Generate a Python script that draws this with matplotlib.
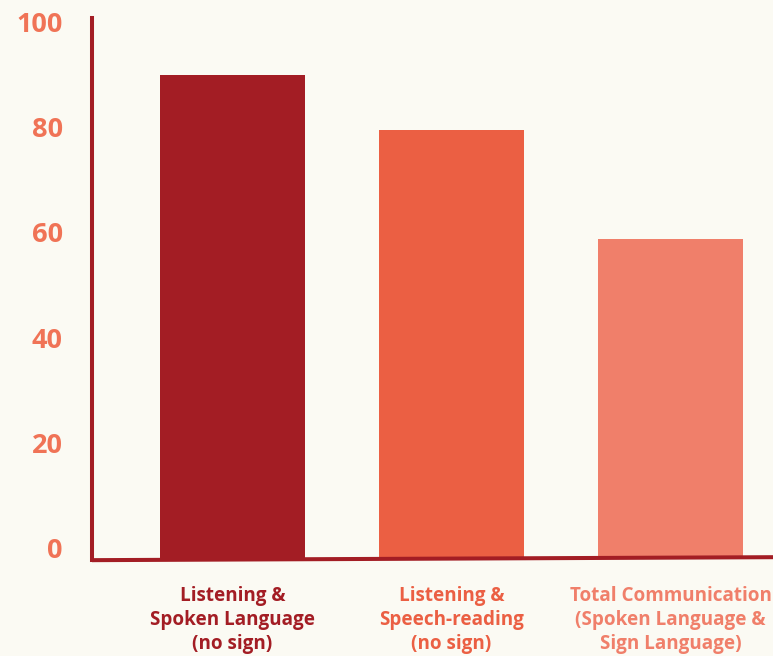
import matplotlib
matplotlib.use("Agg")
import matplotlib.pyplot as plt

categories = ["Listening &\nSpoken Language\n(no sign)",
              "Listening &\nSpeech-reading\n(no sign)",
              "Total Communication\n(Spoken Language &\nSign Language)"]
values = [90, 79.5, 58.7]
yticks = [0, 20, 40, 60, 80, 100]
colors = ["#a31d24", "#eb5f43", "#f07f6a"]

BG = "#fbfaf3"
AXC = "#a31d24"
TICKC = "#f07356"

plt.rcParams['font.family'] = ['Open Sans', 'DejaVu Sans']

fig = plt.figure(figsize=(7.73, 6.56), dpi=100, facecolor=BG)
ax = fig.add_axes([92/773, (656-558)/656, (773-92)/773, 540/656])
ax.set_facecolor(BG)

ymin, ymax = -1.90, 100.76
x = list(range(len(categories)))
ax.bar(x, [v - ymin for v in values], bottom=ymin, width=0.662, color=colors, zorder=2)

ax.set_xlim(-0.6416, 2.468)
ax.set_ylim(ymin, ymax)

for s in ["top", "right", "bottom"]:
    ax.spines[s].set_visible(False)
ax.spines["left"].set_color(AXC)
ax.spines["left"].set_linewidth(2.9)
ax.spines["left"].set_bounds(ymin - 0.4, ymax)

# slightly tilted baseline
ax.plot([0, 1], [-0.004, 0.0015], transform=ax.transAxes, color=AXC,
        lw=2.9, clip_on=False, zorder=3, solid_capstyle="butt")

ax.set_yticks(yticks)
ax.set_yticklabels([str(t) for t in yticks])
ax.tick_params(axis="y", length=0, pad=21, labelsize=19.5, labelcolor=TICKC)
for lbl in ax.get_yticklabels():
    lbl.set_fontweight("bold")

ax.set_xticks(x)
ax.set_xticklabels(categories, fontsize=13.6, fontweight="bold", linespacing=1.27)
ax.tick_params(axis="x", length=0, pad=20)
for lbl, c in zip(ax.get_xticklabels(), colors):
    lbl.set_color(c)

fig.savefig("out.png", dpi=100, facecolor=BG)
